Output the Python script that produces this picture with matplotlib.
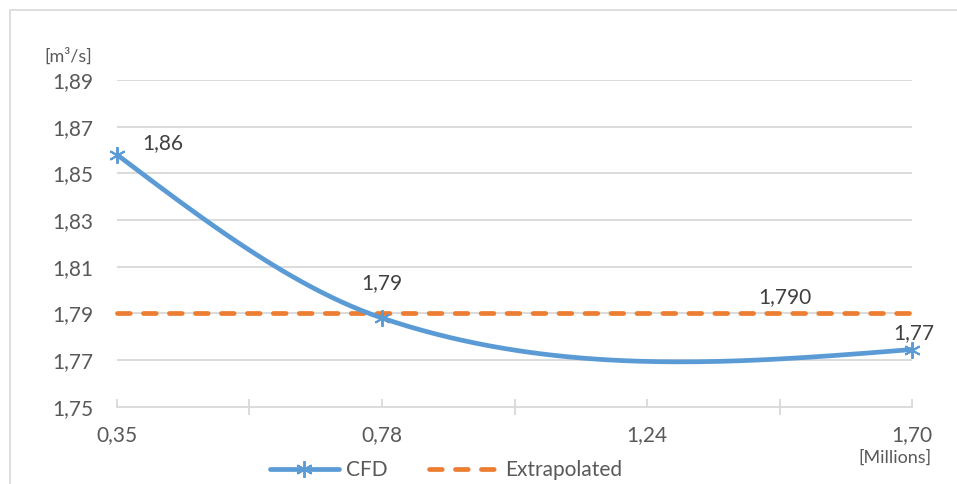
import numpy as np
import matplotlib
matplotlib.use("Agg")
import matplotlib.pyplot as plt
from matplotlib.lines import Line2D
from matplotlib.patches import Rectangle
from matplotlib.ticker import FixedLocator, FixedFormatter, NullFormatter

plt.rcParams["font.family"] = ["Lato", "DejaVu Sans"]

# ---- data -------------------------------------------------------------
x_ticks = [0.35, 0.78, 1.24, 1.70]          # mesh size [Millions]
x_tick_labels = ["0,35", "0,78", "1,24", "1,70"]
y_ticks = [1.75, 1.77, 1.79, 1.81, 1.83, 1.85, 1.87, 1.89]
y_tick_labels = ["1,75", "1,77", "1,79", "1,81", "1,83", "1,85", "1,87", "1,89"]

cfd_x = [0.35, 0.78, 1.70]
cfd_y = [1.858, 1.788, 1.7745]
cfd_labels = ["1,86", "1,79", "1,77"]

extrap_x = [0.35, 1.70]
extrap_y = [1.790, 1.790]
extrap_label = "1,790"
extrap_label_x = 1.47

BLUE = "#5B9BD5"
ORANGE = "#ED7D31"
GRID = "#D9D9D9"
TICK_TXT = "#595959"
LABEL_TXT = "#404040"
FS = 15


# ---- axis scale: labelled mesh sizes are evenly spaced --------------------
idx = np.arange(len(x_ticks), dtype=float)


def _pw(v, xp, fp):
    v = np.asarray(v, dtype=float)
    out = np.interp(v, xp, fp)
    lo = v < xp[0]
    hi = v > xp[-1]
    out = np.where(lo, fp[0] + (v - xp[0]) * (fp[1] - fp[0]) / (xp[1] - xp[0]), out)
    out = np.where(hi, fp[-1] + (v - xp[-1]) * (fp[-1] - fp[-2]) / (xp[-1] - xp[-2]), out)
    return out


def fwd(v):
    return _pw(v, np.asarray(x_ticks), idx)


def inv(t):
    return _pw(t, idx, np.asarray(x_ticks))


def smooth_curve(xs, ys, n=80):
    """Cubic Hermite curve through the points, built in scale space."""
    t = fwd(xs)
    y = np.asarray(ys, dtype=float)
    s = np.diff(y) / np.diff(t)
    m = np.zeros_like(y)
    m[1:-1] = (s[:-1] + s[1:]) / 2
    m[0] = (3 * s[0] - m[1]) / 2
    m[-1] = (3 * s[-1] - m[-2]) / 2
    tt, yy = [], []
    for i in range(len(t) - 1):
        h = t[i + 1] - t[i]
        u = np.linspace(0, 1, n)
        h00 = 2 * u**3 - 3 * u**2 + 1
        h10 = u**3 - 2 * u**2 + u
        h01 = -2 * u**3 + 3 * u**2
        h11 = u**3 - u**2
        tt.append(t[i] + u * h)
        yy.append(h00 * y[i] + h10 * h * m[i] + h01 * y[i + 1] + h11 * h * m[i + 1])
    return inv(np.concatenate(tt)), np.concatenate(yy)


# ---- figure -------------------------------------------------------------
fig = plt.figure(figsize=(9.57, 4.84), dpi=100)
ax = fig.add_axes([117 / 957, 1 - 406.7 / 484, (912 - 117) / 957, (406.7 - 80) / 484])

# chart-area border (top and left edges visible)
fig.add_artist(Rectangle((10 / 957, -0.1), 1.2, 1 - 10 / 484 + 0.1,
                         transform=fig.transFigure, fill=False,
                         edgecolor=GRID, linewidth=1.2, zorder=0))

ax.set_xscale("function", functions=(fwd, inv))
ax.set_xlim(x_ticks[0], x_ticks[-1])
ax.set_ylim(y_ticks[0], y_ticks[-1])

# gridlines
for yv in y_ticks[1:]:
    ax.axhline(yv, color=GRID, linewidth=1.3, zorder=0)

for side in ["top", "right", "left"]:
    ax.spines[side].set_visible(False)
ax.spines["bottom"].set_color(GRID)
ax.spines["bottom"].set_linewidth(1.3)

ax.yaxis.set_major_locator(FixedLocator(y_ticks))
ax.yaxis.set_major_formatter(FixedFormatter(y_tick_labels))
ax.tick_params(axis="y", length=0, pad=17, labelsize=FS, labelcolor=TICK_TXT)

ax.xaxis.set_major_locator(FixedLocator(x_ticks))
ax.xaxis.set_major_formatter(FixedFormatter(x_tick_labels))
minor_pos = inv(idx[:-1] + 0.5)
ax.xaxis.set_minor_locator(FixedLocator(list(minor_pos)))
ax.xaxis.set_minor_formatter(NullFormatter())
ax.tick_params(axis="x", which="major", direction="in", length=6, width=1.3,
               color=GRID, pad=13, labelsize=FS, labelcolor=TICK_TXT)
ax.tick_params(axis="x", which="minor", direction="inout", length=12, width=1.3,
               color=GRID)

# Extrapolated value
ax.plot(extrap_x, extrap_y, color=ORANGE, linewidth=3.4, linestyle=(0, (2.7, 2.8)),
        dash_capstyle="round", solid_capstyle="round", clip_on=False, zorder=3)

# CFD series: smoothed line plus star markers
sx, sy = smooth_curve(cfd_x, cfd_y)
ax.plot(sx, sy, color=BLUE, linewidth=3.4, solid_capstyle="round", clip_on=False, zorder=4)
ax.plot(cfd_x, cfd_y, linestyle="none", marker=(6, 2, 0), markersize=12,
        markeredgewidth=1.4, markeredgecolor=BLUE, color=BLUE, clip_on=False, zorder=5)

# data labels
label_offsets = [(18, 8, "left"), (0, 25, "center"), (1, 12, "center")]
for xv, yv, txt, (dx, dy, ha) in zip(cfd_x, cfd_y, cfd_labels, label_offsets):
    ax.annotate(txt, (xv, yv), xytext=(dx, dy), textcoords="offset points",
                ha=ha, va="center", fontsize=FS, color=LABEL_TXT, zorder=6)
ax.annotate(extrap_label, (extrap_label_x, extrap_y[0]), xytext=(4, 12),
            textcoords="offset points", ha="center", va="center",
            fontsize=FS, color=LABEL_TXT, zorder=6)

# axis units
fig.text(68 / 957, 1 - 56 / 484, "[m³/s]", ha="center", va="center",
         fontsize=13, color=TICK_TXT)
fig.text(932 / 957, 1 - 458 / 484, "[Millions]", ha="right", va="center",
         fontsize=13, color=TICK_TXT)

# legend
handles = [
    Line2D([], [], color=BLUE, linewidth=3.4, marker=(6, 2, 0), markersize=12,
           markeredgewidth=1.4, solid_capstyle="round"),
    Line2D([], [], color=ORANGE, linewidth=3.4, linestyle=(0, (2.7, 2.8)),
           dash_capstyle="round"),
]
fig.legend(handles, ["CFD", "Extrapolated"], loc="center",
           bbox_to_anchor=(446 / 957, 1 - 470 / 484), ncol=2, frameon=False,
           fontsize=FS, labelcolor=TICK_TXT, handlelength=3.3, handletextpad=0.35,
           columnspacing=2.0)

fig.savefig("out.png", dpi=100)
